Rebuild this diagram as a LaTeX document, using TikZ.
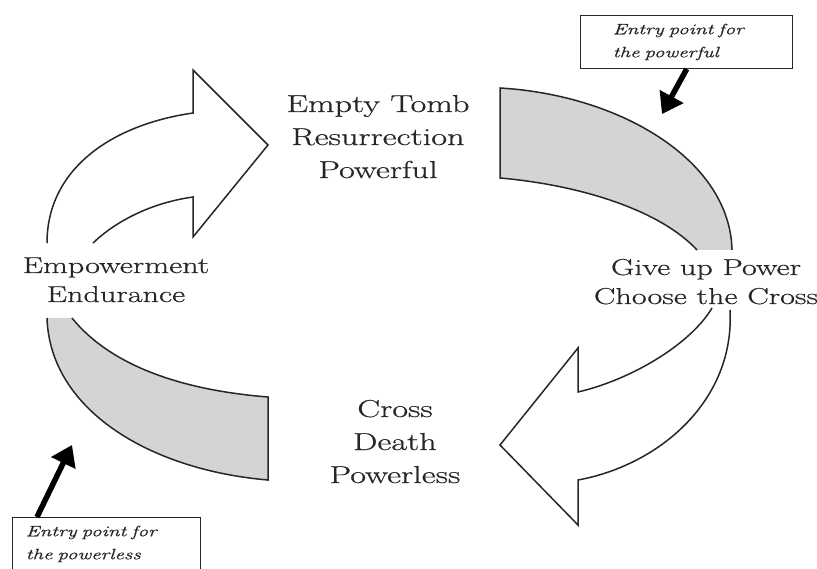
\documentclass[tikz,border=0pt]{standalone}
\usepackage{fontspec}
\setmainfont{Latin Modern Roman}[FakeStretch=1.4,FakeBold=0.6]
\usetikzlibrary{arrows.meta,calc}
\definecolor{band}{gray}{0.83}
\definecolor{ink}{gray}{0.15}
\begin{document}
\begin{tikzpicture}[x=1pt,y=-1pt,
  outline/.style={draw=ink,line width=1.5pt,line join=miter},
  bigtext/.style={font=\fontsize{24.5}{33}\selectfont,text=ink,align=center,inner sep=0pt},
  sidetext/.style={font=\fontsize{23}{29}\selectfont,text=ink,align=center,inner sep=0pt},
  entrybox/.style={draw=ink,line width=1.4pt,font=\fontsize{15}{23}\selectfont\itshape,text=ink,align=left,inner ysep=8pt,anchor=north west},
  entryarrow/.style={line width=5.5pt,draw=black,-{Triangle[length=20pt,width=26pt]}}]
\useasboundingbox (0,0) rectangle (817,569);
\clip (0,0) rectangle (817,569);
% grey bands
\fill[band] (500,88) .. controls (620,95) and (730,160) .. (732,250) -- (697,250) .. controls (660,210) and (580,185) .. (500,178) -- cycle;
\draw[outline] (697,250) .. controls (660,210) and (580,185) .. (500,178) -- (500,88) .. controls (620,95) and (730,160) .. (732,250);
\fill[band] (47,318) .. controls (50,410) and (150,470) .. (268,480) -- (268,397) .. controls (180,390) and (110,365) .. (72,318) -- cycle;
\draw[outline] (47,318) .. controls (50,410) and (150,470) .. (268,480) -- (268,397) .. controls (180,390) and (110,365) .. (72,318);
% white arrows
\draw[outline] (47,243) .. controls (47,170) and (110,125) .. (193,113) -- (193,70) -- (268,145) -- (193,237) -- (193,197) .. controls (150,203) and (115,222) .. (93,243);
\draw[outline] (730,310) .. controls (735,400) and (660,465) .. (578,480) -- (578,525) -- (500,445) -- (578,348) -- (578,392) .. controls (630,380) and (690,345) .. (712,308);
% labels (anchor base = baseline of last line)
\node[bigtext, anchor=base] (rise) at (378,178) {Empty Tomb\\Resurrection\\Powerful};
\node[bigtext, anchor=base] (cross) at (395,483) {Cross\\Death\\Powerless};
\node[sidetext, anchor=base] (endure) at (116,302) {Empowerment\\Endurance};
\node[sidetext, anchor=base] (giveup) at (706,304) {Give up Power\\Choose the Cross};
% entry boxes
\node[entrybox, text width=148pt, inner xsep=32pt] (topbox) at (580,15) {Entry point for\\the powerful};
\node[entrybox, text width=162pt, inner xsep=13pt] (botbox) at (12,517) {Entry point for\\the powerless};
\coordinate (toptip) at (662,114);
\coordinate (bottip) at (72,445);
\draw[entryarrow] (topbox.south) -- (toptip);
\draw[entryarrow] ($(botbox.north west)+(25,0)$) -- (bottip);
\end{tikzpicture}
\end{document}
